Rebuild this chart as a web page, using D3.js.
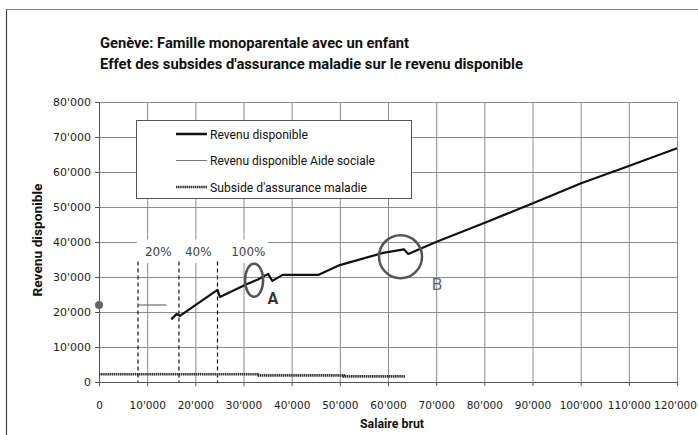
<!DOCTYPE html>
<html>
<head>
<meta charset="utf-8">
<script src="https://cdn.jsdelivr.net/npm/d3@7"></script>
<style>
  body { margin: 0; background: #fff; }
  svg { display: block; }
  .axis text { font-family: "DejaVu Sans", Verdana, sans-serif; font-size: 10.5px; fill: #222; }
  .axis path, .axis line { stroke: #555; }
  .cond { font-family: "Liberation Sans Narrow", "Roboto", "Noto Sans", sans-serif; }
</style>
</head>
<body>
<svg id="chart" width="698" height="435"></svg>
<script>
// data
const revenuX = [15000, 16100, 16800, 24600, 25100, 30300, 33000, 35100, 36000, 38100, 45500, 50000, 59000, 63300, 64200, 70100, 80100, 90100, 100100, 110000, 120000];
const revenuY = [17900, 19400, 18900, 26300, 24300, 27700, 29300, 30900, 28900, 30600, 30600, 33400, 36900, 37900, 36600, 40100, 45500, 51100, 56800, 61700, 66800];

const aideX = [0, 8100, 14000];
const aideY = [22000, 22000, 22000];

const subsideX = [0, 32900, 32900, 50800, 50800, 63600];
const subsideY = [2200, 2200, 1900, 1900, 1600, 1600];

const seuilX = [8100, 16600, 24600];
const seuilLabels = ['20%', '40%', '100%'];
const seuilLabelX = [12300, 20600, 31000];

const xTicks = d3.range(0, 120001, 10000);
const yTicks = d3.range(0, 80001, 10000);

const legendLabels = ['Revenu disponible', 'Revenu disponible Aide sociale', "Subside d'assurance maladie"];

const margin = { top: 102, right: 21, bottom: 53, left: 99 };
const width = 698 - margin.left - margin.right;
const height = 435 - margin.top - margin.bottom;

const svg0 = d3.select('#chart');

// frame of the scanned page
svg0.append('line').attr('x1', 6).attr('x2', 698).attr('y1', 9.5).attr('y2', 9.5)
  .attr('stroke', '#888').attr('stroke-width', 1);
svg0.append('line').attr('x1', 6.5).attr('x2', 6.5).attr('y1', 9.5).attr('y2', 435)
  .attr('stroke', '#444').attr('stroke-width', 1.2);

// titles
svg0.append('text').attr('class', 'cond').attr('x', 100).attr('y', 48)
  .attr('textLength', 309).attr('lengthAdjust', 'spacingAndGlyphs')
  .style('font-size', '15px').style('font-weight', 'bold').attr('fill', '#111')
  .text('Genève: Famille monoparentale avec un enfant');
svg0.append('text').attr('class', 'cond').attr('x', 100).attr('y', 69)
  .attr('textLength', 423).attr('lengthAdjust', 'spacingAndGlyphs')
  .style('font-size', '15px').style('font-weight', 'bold').attr('fill', '#111')
  .text("Effet des subsides d'assurance maladie sur le revenu disponible");

const svg = svg0.append('g')
  .attr('transform', `translate(${margin.left},${margin.top})`);

const xScale = d3.scaleLinear().domain([0, 120000]).range([0, width]);
const yScale = d3.scaleLinear().domain([0, 80000]).range([height, 0]);

const fmt = d => d === 0 ? '0' : d3.format(',')(d).replace(/,/g, "'");

// gridlines
svg.append('g').selectAll('line').data(yTicks).enter().append('line')
  .attr('x1', 0).attr('x2', width)
  .attr('y1', d => yScale(d) + 0.5).attr('y2', d => yScale(d) + 0.5)
  .attr('stroke', '#8c8c8c').attr('stroke-width', 1);
svg.append('g').selectAll('line').data(xTicks).enter().append('line')
  .attr('x1', d => xScale(d) + 0.5).attr('x2', d => xScale(d) + 0.5)
  .attr('y1', 0).attr('y2', height)
  .attr('stroke', '#8c8c8c').attr('stroke-width', 1);

// axes
const xAxisG = svg.append('g').attr('class', 'axis')
  .attr('transform', `translate(0,${height})`)
  .call(d3.axisBottom(xScale).tickValues(xTicks).tickFormat(fmt).tickSize(4).tickPadding(16).tickSizeOuter(0));
// keep the last label inside the page
xAxisG.selectAll('.tick text').filter(d => d === 120000).attr('dx', -2);
svg.append('g').attr('class', 'axis')
  .call(d3.axisLeft(yScale).tickValues(yTicks).tickFormat(fmt).tickSize(4).tickPadding(4).tickSizeOuter(0));
svg.selectAll('.axis .domain').attr('stroke', '#444');
svg.selectAll('.axis text').style('font-size', '11px');
xAxisG.selectAll('.tick text').style('font-size', '10.5px');

// axis titles
svg0.append('text').attr('class', 'cond')
  .attr('transform', 'translate(42,240) rotate(-90)')
  .attr('text-anchor', 'middle').attr('textLength', 113).attr('lengthAdjust', 'spacingAndGlyphs')
  .style('font-size', '13px').style('font-weight', 'bold').attr('fill', '#111')
  .text('Revenu disponible');
svg0.append('text').attr('class', 'cond')
  .attr('x', 392).attr('y', 428).attr('text-anchor', 'middle')
  .attr('textLength', 64).attr('lengthAdjust', 'spacingAndGlyphs')
  .style('font-size', '13px').style('font-weight', 'bold').attr('fill', '#111')
  .text('Salaire brut');

// white box behind the percentage labels
svg.append('rect')
  .attr('x', xScale(7900)).attr('y', yScale(40700))
  .attr('width', xScale(35000) - xScale(7900)).attr('height', yScale(34000) - yScale(40700))
  .attr('fill', '#fff');

// threshold lines
svg.append('g').selectAll('line').data(seuilX).enter().append('line')
  .attr('x1', d => xScale(d)).attr('x2', d => xScale(d))
  .attr('y1', yScale(34400)).attr('y2', yScale(0))
  .attr('stroke', '#111').attr('stroke-width', 1.2).attr('stroke-dasharray', '4,3');
svg.append('g').selectAll('text').data(seuilLabels).enter().append('text')
  .attr('x', (d, i) => xScale(seuilLabelX[i])).attr('y', yScale(37200))
  .attr('dy', '0.35em').attr('text-anchor', 'middle')
  .style('font-family', '"DejaVu Sans", Verdana, sans-serif').style('font-size', '12px')
  .attr('fill', '#444').text(d => d);

// series
const line = d3.line().x(d => xScale(d[0])).y(d => yScale(d[1]));

svg.append('path').datum(d3.zip(subsideX, subsideY))
  .attr('d', line).attr('fill', 'none')
  .attr('stroke', '#333').attr('stroke-width', 2.6).attr('stroke-dasharray', '1.5,0.6');

svg.append('path').datum(d3.zip(aideX.slice(1), aideY.slice(1)))
  .attr('d', line).attr('fill', 'none')
  .attr('stroke', '#777').attr('stroke-width', 1.3);
svg.append('circle')
  .attr('cx', xScale(aideX[0])).attr('cy', yScale(aideY[0])).attr('r', 4)
  .attr('fill', '#666');

svg.append('path').datum(d3.zip(revenuX, revenuY))
  .attr('d', line).attr('fill', 'none')
  .attr('stroke', '#111').attr('stroke-width', 2.2).attr('stroke-linejoin', 'round');

// annotations A and B
svg.append('ellipse')
  .attr('cx', xScale(32200)).attr('cy', yScale(29100)).attr('rx', 9).attr('ry', 16.5)
  .attr('fill', 'none').attr('stroke', '#555').attr('stroke-width', 2.5);
svg0.append('text').attr('class', 'cond')
  .attr('x', margin.left + xScale(36100)).attr('y', margin.top + yScale(23900)).attr('dy', '0.35em')
  .attr('text-anchor', 'middle').style('font-size', '16px').style('font-weight', 'bold')
  .attr('fill', '#333').text('A');
svg.append('circle')
  .attr('cx', xScale(62600)).attr('cy', yScale(35800)).attr('r', 21.5)
  .attr('fill', 'none').attr('stroke', '#555').attr('stroke-width', 2.5);
svg0.append('text').attr('class', 'cond')
  .attr('x', margin.left + xScale(70200)).attr('y', margin.top + yScale(28000)).attr('dy', '0.35em')
  .attr('text-anchor', 'middle').style('font-size', '17px')
  .attr('fill', '#666').text('B');

// legend
const legend = svg0.append('g');
legend.append('rect').attr('x', 136.5).attr('y', 120.5).attr('width', 275).attr('height', 78)
  .attr('fill', '#fff').attr('stroke', '#555').attr('stroke-width', 1);
const legendStyles = [
  { stroke: '#111', w: 2.5, dash: null },
  { stroke: '#777', w: 1, dash: null },
  { stroke: '#333', w: 2.6, dash: '1.5,0.6' }
];
const legendLen = [98, 165, 157];
legendLabels.forEach((lab, i) => {
  const y = 134 + i * 26.5;
  legend.append('line').attr('x1', 176).attr('x2', 207).attr('y1', y).attr('y2', y)
    .attr('stroke', legendStyles[i].stroke).attr('stroke-width', legendStyles[i].w)
    .attr('stroke-dasharray', legendStyles[i].dash);
  legend.append('text').attr('class', 'cond')
    .attr('x', 210).attr('y', y).attr('dy', '0.35em')
    .attr('textLength', legendLen[i]).attr('lengthAdjust', 'spacingAndGlyphs')
    .style('font-size', '13px').attr('fill', '#111').text(lab);
});
</script>
</body>
</html>
